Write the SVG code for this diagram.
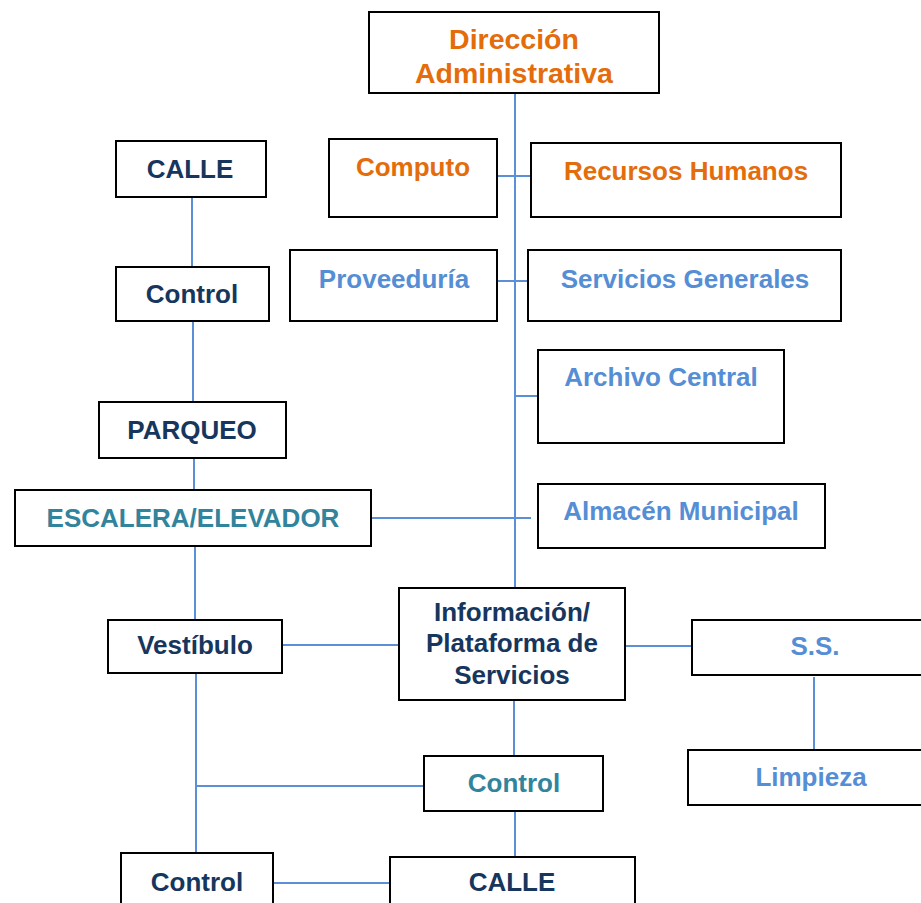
<svg xmlns="http://www.w3.org/2000/svg" width="921" height="903" viewBox="0 0 921 903">
<style>
.b{fill:#fff;stroke:#000;stroke-width:2}
.t{font-family:"Liberation Sans",Arial,sans-serif;font-weight:bold;font-size:26px;text-anchor:middle}
.o{fill:#E46C0A}.lb{fill:#558ED5}.n{fill:#17365D}.tl{fill:#31849B}
.c{stroke:#5B8FD8;stroke-width:2;fill:none}
</style>
<rect width="921" height="903" fill="#fff"/>
<g id="connectors">
<path class="c" d="M515 93V588"/>
<path class="c" d="M497 176H531"/>
<path class="c" d="M497 281H528"/>
<path class="c" d="M515 396H538"/>
<path class="c" d="M372 518H531"/>
<path class="c" d="M192 197V267"/>
<path class="c" d="M193 321V402"/>
<path class="c" d="M194 458V490"/>
<path class="c" d="M195 546V620"/>
<path class="c" d="M282 645H399"/>
<path class="c" d="M625 646H692"/>
<path class="c" d="M814 677V750"/>
<path class="c" d="M514 700V756"/>
<path class="c" d="M196 673V853"/>
<path class="c" d="M195 786H424"/>
<path class="c" d="M515 811V857"/>
<path class="c" d="M273 883H390"/>
</g>
<g id="direccion"><rect class="b" x="369" y="12" width="290" height="81"/><text class="t o" x="514" y="49" style="font-size:28.5px">Dirección</text><text class="t o" x="514" y="83" style="font-size:28.5px">Administrativa</text></g>
<g id="computo"><rect class="b" x="329" y="139" width="168" height="78"/><text class="t o" x="413" y="176">Computo</text></g>
<g id="rrhh"><rect class="b" x="531" y="143" width="310" height="74"/><text class="t o" x="686" y="180">Recursos Humanos</text></g>
<g id="proveeduria"><rect class="b" x="290" y="250" width="207" height="71"/><text class="t lb" x="394" y="288">Proveeduría</text></g>
<g id="servicios"><rect class="b" x="528" y="250" width="313" height="71"/><text class="t lb" x="685" y="288">Servicios Generales</text></g>
<g id="archivo"><rect class="b" x="538" y="350" width="246" height="93"/><text class="t lb" x="661" y="386">Archivo Central</text></g>
<g id="almacen"><rect class="b" x="538" y="484" width="287" height="64"/><text class="t lb" x="681" y="520">Almacén Municipal</text></g>
<g id="calle1"><rect class="b" x="116" y="141" width="150" height="56"/><text class="t n" x="190" y="178">CALLE</text></g>
<g id="control1"><rect class="b" x="116" y="267" width="153" height="54"/><text class="t n" x="192" y="303">Control</text></g>
<g id="parqueo"><rect class="b" x="99" y="402" width="187" height="56"/><text class="t n" x="192" y="439">PARQUEO</text></g>
<g id="escalera"><rect class="b" x="15" y="490" width="356" height="56"/><text class="t tl" x="193" y="527">ESCALERA/ELEVADOR</text></g>
<g id="vestibulo"><rect class="b" x="108" y="620" width="174" height="53"/><text class="t n" x="195" y="654">Vestíbulo</text></g>
<g id="informacion"><rect class="b" x="399" y="588" width="226" height="112"/><text class="t n" x="512" y="621">Información/</text><text class="t n" x="512" y="652">Plataforma de</text><text class="t n" x="512" y="684">Servicios</text></g>
<g id="ss"><rect class="b" x="692" y="620" width="240" height="55"/><text class="t lb" x="815" y="655">S.S.</text></g>
<g id="limpieza"><rect class="b" x="688" y="750" width="240" height="55"/><text class="t lb" x="811" y="786">Limpieza</text></g>
<g id="control2"><rect class="b" x="424" y="756" width="179" height="55"/><text class="t tl" x="514" y="792">Control</text></g>
<g id="control3"><rect class="b" x="121" y="853" width="152" height="60"/><text class="t n" x="197" y="891">Control</text></g>
<g id="calle2"><rect class="b" x="390" y="857" width="245" height="60"/><text class="t n" x="512" y="891">CALLE</text></g>
</svg>
